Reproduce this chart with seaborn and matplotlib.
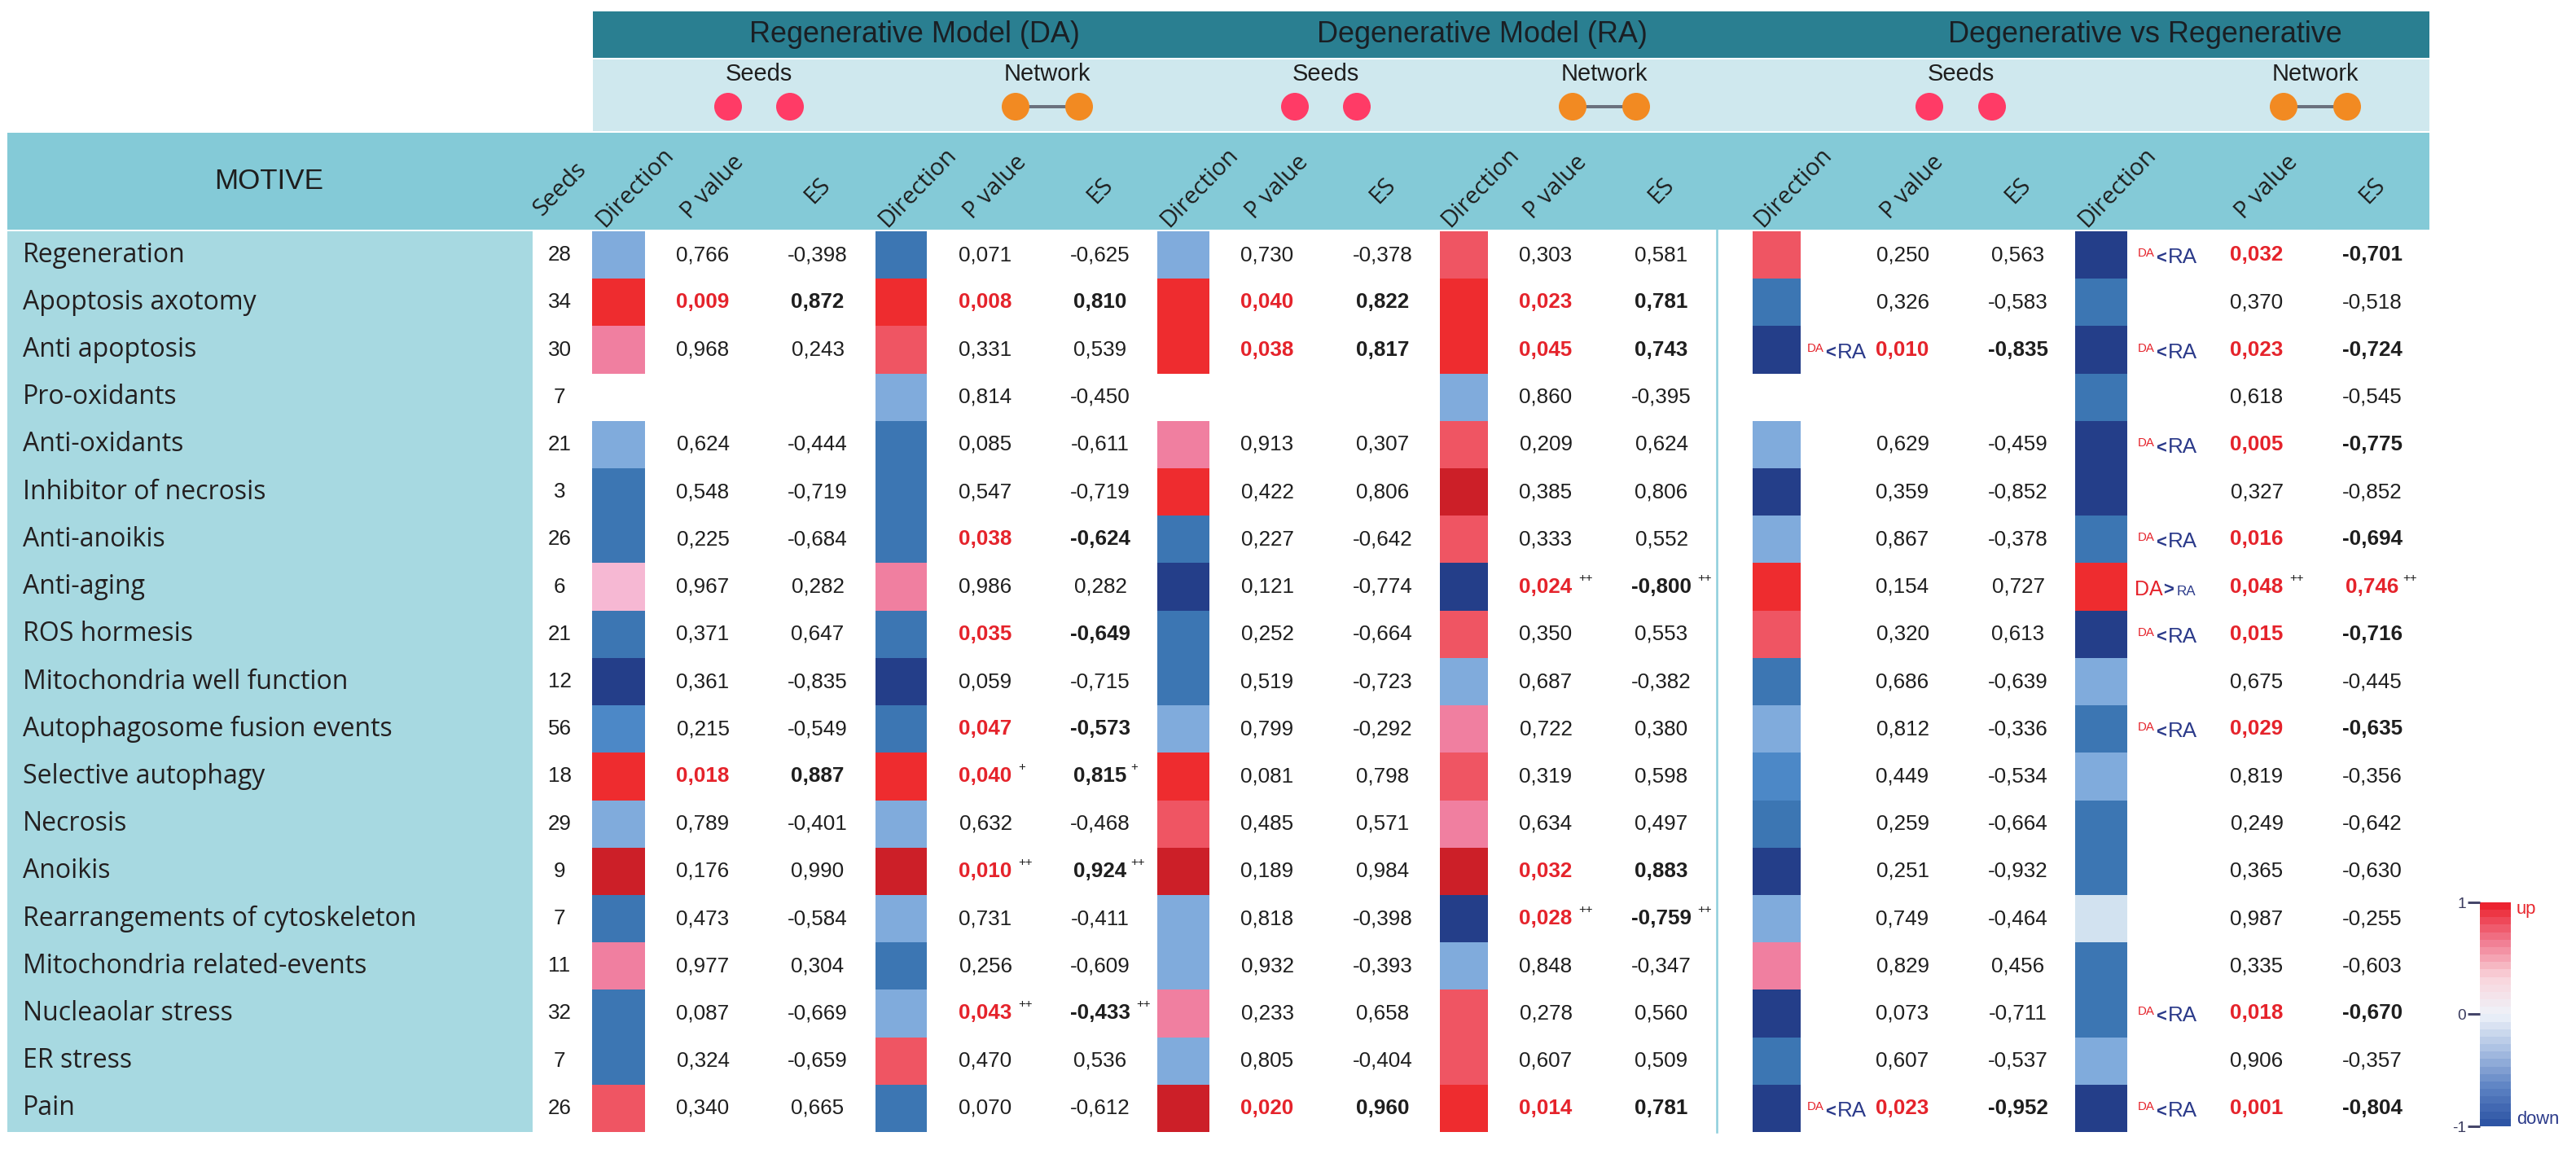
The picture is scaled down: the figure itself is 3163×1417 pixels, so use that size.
import numpy as np
import pandas as pd
import matplotlib
matplotlib.use("Agg")
import matplotlib.pyplot as plt
import seaborn as sns
from matplotlib.colors import ListedColormap, LinearSegmentedColormap, Normalize
from matplotlib.cm import ScalarMappable
from matplotlib.patches import Rectangle, Circle

nan = np.nan

# ---- data -------------------------------------------------------------
motives = ["Regeneration", "Apoptosis axotomy", "Anti apoptosis", "Pro-oxidants",
           "Anti-oxidants", "Inhibitor of necrosis", "Anti-anoikis", "Anti-aging",
           "ROS hormesis", "Mitochondria well function", "Autophagosome fusion events",
           "Selective autophagy", "Necrosis", "Anoikis", "Rearrangements of cytoskeleton",
           "Mitochondria related-events", "Nucleaolar stress", "ER stress", "Pain"]
seeds = [28, 34, 30, 7, 21, 3, 26, 6, 21, 12, 56, 18, 29, 9, 7, 11, 32, 7, 26]

# direction colour level read from the cells: -5 dark blue ... 5 dark red, nan = empty
da_seed_dir = [-2, 4, 2, nan, -2, -4, -4, 1, -4, -5, -3, 4, -2, 5, -4, 2, -4, -4, 3]
da_seed_p = [0.766, 0.009, 0.968, nan, 0.624, 0.548, 0.225, 0.967, 0.371, 0.361,
             0.215, 0.018, 0.789, 0.176, 0.473, 0.977, 0.087, 0.324, 0.340]
da_seed_es = [-0.398, 0.872, 0.243, nan, -0.444, -0.719, -0.684, 0.282, 0.647, -0.835,
              -0.549, 0.887, -0.401, 0.990, -0.584, 0.304, -0.669, -0.659, 0.665]

da_net_dir = [-4, 4, 3, -2, -4, -4, -4, 2, -4, -5, -4, 4, -2, 5, -2, -4, -2, 3, -4]
da_net_p = [0.071, 0.008, 0.331, 0.814, 0.085, 0.547, 0.038, 0.986, 0.035, 0.059,
            0.047, 0.040, 0.632, 0.010, 0.731, 0.256, 0.043, 0.470, 0.070]
da_net_es = [-0.625, 0.810, 0.539, -0.450, -0.611, -0.719, -0.624, 0.282, -0.649, -0.715,
             -0.573, 0.815, -0.468, 0.924, -0.411, -0.609, -0.433, 0.536, -0.612]

ra_seed_dir = [-2, 4, 4, nan, 2, 4, -4, -5, -4, -4, -2, 4, 3, 5, -2, -2, 2, -2, 5]
ra_seed_p = [0.730, 0.040, 0.038, nan, 0.913, 0.422, 0.227, 0.121, 0.252, 0.519,
             0.799, 0.081, 0.485, 0.189, 0.818, 0.932, 0.233, 0.805, 0.020]
ra_seed_es = [-0.378, 0.822, 0.817, nan, 0.307, 0.806, -0.642, -0.774, -0.664, -0.723,
              -0.292, 0.798, 0.571, 0.984, -0.398, -0.393, 0.658, -0.404, 0.960]

ra_net_dir = [3, 4, 4, -2, 3, 5, 3, -5, 3, -2, 2, 3, 2, 5, -5, -2, 3, 3, 4]
ra_net_p = [0.303, 0.023, 0.045, 0.860, 0.209, 0.385, 0.333, 0.024, 0.350, 0.687,
            0.722, 0.319, 0.634, 0.032, 0.028, 0.848, 0.278, 0.607, 0.014]
ra_net_es = [0.581, 0.781, 0.743, -0.395, 0.624, 0.806, 0.552, -0.800, 0.553, -0.382,
             0.380, 0.598, 0.497, 0.883, -0.759, -0.347, 0.560, 0.509, 0.781]

dvr_seed_dir = [3, -4, -5, nan, -2, -5, -2, 4, 3, -4, -2, -3, -4, -5, -2, 2, -5, -4, -5]
dvr_seed_p = [0.250, 0.326, 0.010, nan, 0.629, 0.359, 0.867, 0.154, 0.320, 0.686,
              0.812, 0.449, 0.259, 0.251, 0.749, 0.829, 0.073, 0.607, 0.023]
dvr_seed_es = [0.563, -0.583, -0.835, nan, -0.459, -0.852, -0.378, 0.727, 0.613, -0.639,
               -0.336, -0.534, -0.664, -0.932, -0.464, 0.456, -0.711, -0.537, -0.952]

dvr_net_dir = [-5, -4, -5, -4, -5, -5, -4, 4, -5, -2, -4, -2, -4, -4, -1, -4, -4, -2, -5]
dvr_net_p = [0.032, 0.370, 0.023, 0.618, 0.005, 0.327, 0.016, 0.048, 0.015, 0.675,
             0.029, 0.819, 0.249, 0.365, 0.987, 0.335, 0.018, 0.906, 0.001]
dvr_net_es = [-0.701, -0.518, -0.724, -0.545, -0.775, -0.852, -0.694, 0.746, -0.716, -0.445,
              -0.635, -0.356, -0.642, -0.630, -0.255, -0.603, -0.670, -0.357, -0.804]

# superscript marks (column, row) -> mark
marks = {("da_net", 11): "+", ("da_net", 13): "++", ("da_net", 16): "++",
         ("ra_net", 7): "++", ("ra_net", 14): "++", ("dvr_net", 7): "++"}

group_titles = ["Regenerative Model (DA)", "Degenerative Model (RA)", "Degenerative vs Regenerative"]

# ---- style ------------------------------------------------------------
W, H = 3163, 1417
ROW_TOP, ROW_BOT = 284, 1390
n = len(motives)
row_h = (ROW_BOT - ROW_TOP) / n

dir_colors = ["#243E89", "#3C76B3", "#4C88C7", "#80ABDC", "#D2E2F0",
              "#F6B8D3", "#F07FA0", "#EF5563", "#EE2C2F", "#CC1F28"]
dir_cmap = ListedColormap(dir_colors)
RED = "#E5232B"
NAVY = "#2B3A8A"
TXT = "#1E1E1E"

plt.rcParams["font.family"] = ["Liberation Sans", "DejaVu Sans"]
LABEL_FONT = ["Open Sans", "DejaVu Sans"]

# layout of the table columns (pixel positions)
columns = [
    dict(key="da_seed", dir=da_seed_dir, p=da_seed_p, es=da_seed_es, cell=(727, 792), px=863, ex=1004, dvr=False),
    dict(key="da_net", dir=da_net_dir, p=da_net_p, es=da_net_es, cell=(1075, 1138), px=1210, ex=1351, dvr=False),
    dict(key="ra_seed", dir=ra_seed_dir, p=ra_seed_p, es=ra_seed_es, cell=(1421, 1485), px=1556, ex=1698, dvr=False),
    dict(key="ra_net", dir=ra_net_dir, p=ra_net_p, es=ra_net_es, cell=(1768, 1827), px=1898, ex=2040, dvr=False),
    dict(key="dvr_seed", dir=dvr_seed_dir, p=dvr_seed_p, es=dvr_seed_es, cell=(2152, 2211), px=2336, ex=2478, dvr=True, lab=2219),
    dict(key="dvr_net", dir=dvr_net_dir, p=dvr_net_p, es=dvr_net_es, cell=(2548, 2612), px=2771, ex=2913, dvr=True, lab=2625),
]


def fmt(v):
    return f"{v:.3f}".replace(".", ",")


def code_to_idx(c):
    if c != c:
        return np.nan
    return c + 5 if c < 0 else c + 4


def row_y(i):
    return ROW_TOP + (i + 0.5) * row_h


fig = plt.figure(figsize=(W / 72 + 1e-6, H / 72 + 1e-6), dpi=72)
ax = fig.add_axes([0, 0, 1, 1])
ax.set_xlim(0, W)
ax.set_ylim(H, 0)
ax.axis("off")

# background bands
ax.add_patch(Rectangle((728, 14), 2983 - 728, 57, color="#2A7F91", lw=0))
ax.add_patch(Rectangle((728, 73), 2983 - 728, 88, color="#CFE8EE", lw=0))
ax.add_patch(Rectangle((9, 163), 2983 - 9, 119, color="#84CAD7", lw=0))
ax.add_patch(Rectangle((9, ROW_TOP), 654 - 9, ROW_BOT - ROW_TOP, color="#A7D9E1", lw=0))
ax.plot([2108, 2108], [282, ROW_BOT], color="#8DCFDC", lw=2.5)

# group titles
for title, cx in zip(group_titles, [1123, 1820, 2634]):
    ax.text(cx, 42, title, fontsize=36, color="#1A1F24", ha="center", va="center")

# seeds / network icons
for kind, (c1, c2) in [("Seeds", (894, 970)), ("Network", (1247, 1325)),
                       ("Seeds", (1590, 1666)), ("Network", (1931, 2009)),
                       ("Seeds", (2369, 2446)), ("Network", (2804, 2882))]:
    ax.text((c1 + c2) / 2, 91, kind, fontsize=29, color=TXT, ha="center", va="center")
    if kind == "Network":
        ax.plot([c1, c2], [131, 131], color="#6B717E", lw=4, zorder=2)
        col = "#F28A22"
    else:
        col = "#FF3B66"
    for c in (c1, c2):
        ax.add_patch(Circle((c, 131), 17, color=col, lw=0, zorder=3))

# column header
ax.text(330, 222, "MOTIVE", fontsize=35, color=TXT, ha="center", va="center")
ax.text(688, 232, "Seeds", fontsize=29, color=TXT, ha="center", va="center",
        rotation=46, family=LABEL_FONT)
for col in columns:
    cc = (col["cell"][0] + col["cell"][1]) / 2
    for lab, x in [("Direction", cc + 20), ("P value", col["px"] + 12), ("ES", col["ex"])]:
        ax.text(x, 230 if lab != "ES" else 234, lab, fontsize=29, color=TXT, ha="center", va="center",
                rotation=46, family=LABEL_FONT)

# motive names and seed counts
for i, (m, s) in enumerate(zip(motives, seeds)):
    ax.text(28, row_y(i), m, fontsize=32, color="#231F20", ha="left", va="center", family=LABEL_FONT)
    ax.text(687, row_y(i), str(s), fontsize=26, color=TXT, ha="center", va="center")


def draw_cmp(x0, yb, es):
    if es < 0:
        ax.text(x0, yb - 8, "DA", fontsize=15, color=RED, va="baseline", ha="left")
        ax.text(x0 + 22, yb, "<", fontsize=22, color=NAVY, va="baseline", ha="left", fontweight="bold")
        ax.text(x0 + 37, yb, "RA", fontsize=26, color=NAVY, va="baseline", ha="left")
    else:
        ax.text(x0 - 4, yb, "DA", fontsize=25, color=RED, va="baseline", ha="left")
        ax.text(x0 + 31, yb, ">", fontsize=22, color=NAVY, va="baseline", ha="left", fontweight="bold")
        ax.text(x0 + 48, yb, "RA", fontsize=17, color=NAVY, va="baseline", ha="left")


# numbers
for col in columns:
    for i in range(n):
        p, es = col["p"][i], col["es"][i]
        if p != p:
            continue
        y = row_y(i)
        sig = p < 0.05
        ax.text(col["px"], y, fmt(p), fontsize=26, ha="center", va="center",
                color=RED if sig else TXT, fontweight="bold" if sig else "normal")
        es_col = RED if (sig and col["dvr"] and es > 0) else TXT
        ax.text(col["ex"], y, fmt(es), fontsize=26, ha="center", va="center",
                color=es_col, fontweight="bold" if sig else "normal")
        mk = marks.get((col["key"], i))
        if mk:
            ax.text(col["px"] + 7.2 * len(fmt(p)) + 4, y - 11, mk, fontsize=15, color=TXT, ha="left", va="center")
            ax.text(col["ex"] + 7.2 * len(fmt(es)) + 1, y - 11, mk, fontsize=15, color=TXT, ha="left", va="center")
        if col["dvr"] and sig:
            draw_cmp(col["lab"], y + 10, es)

# direction cells as one-column heatmaps
for col in columns:
    x0, x1 = col["cell"]
    hax = fig.add_axes([x0 / W, 1 - ROW_BOT / H, (x1 - x0) / W, (ROW_BOT - ROW_TOP) / H])
    df = pd.DataFrame({col["key"]: [code_to_idx(c) for c in col["dir"]]}, index=motives)
    sns.heatmap(df, ax=hax, cmap=dir_cmap, vmin=-0.5, vmax=9.5, cbar=False,
                xticklabels=False, yticklabels=False, linewidths=0)
    hax.patch.set_visible(False)
    hax.set_xlabel("")
    hax.set_ylabel("")

# colour scale
cb_cmap = LinearSegmentedColormap.from_list(
    "updown", ["#2E55A5", "#5E84C4", "#A9BFE2", "#EEF2F9", "#F9D5DC", "#F17D92", "#EC2330"], N=30)
cax = fig.add_axes([3045 / W, 1 - 1383 / H, 38 / W, (1383 - 1108) / H])
cb = fig.colorbar(ScalarMappable(norm=Normalize(-1, 1), cmap=cb_cmap), cax=cax)
cb.outline.set_visible(False)
cax.yaxis.set_ticks_position("left")
cb.set_ticks([-1, 0, 1])
cb.set_ticklabels(["-1", "0", "1"])
cax.tick_params(length=15, width=3, color="#45466A", labelsize=19, labelcolor="#3A3B5E", pad=2)
ax.text(3090, 1116, "up", fontsize=22, color="#E8262D", ha="left", va="center")
ax.text(3090, 1374, "down", fontsize=22, color=NAVY, ha="left", va="center")

fig.savefig("out.png", dpi=72, facecolor="white")
